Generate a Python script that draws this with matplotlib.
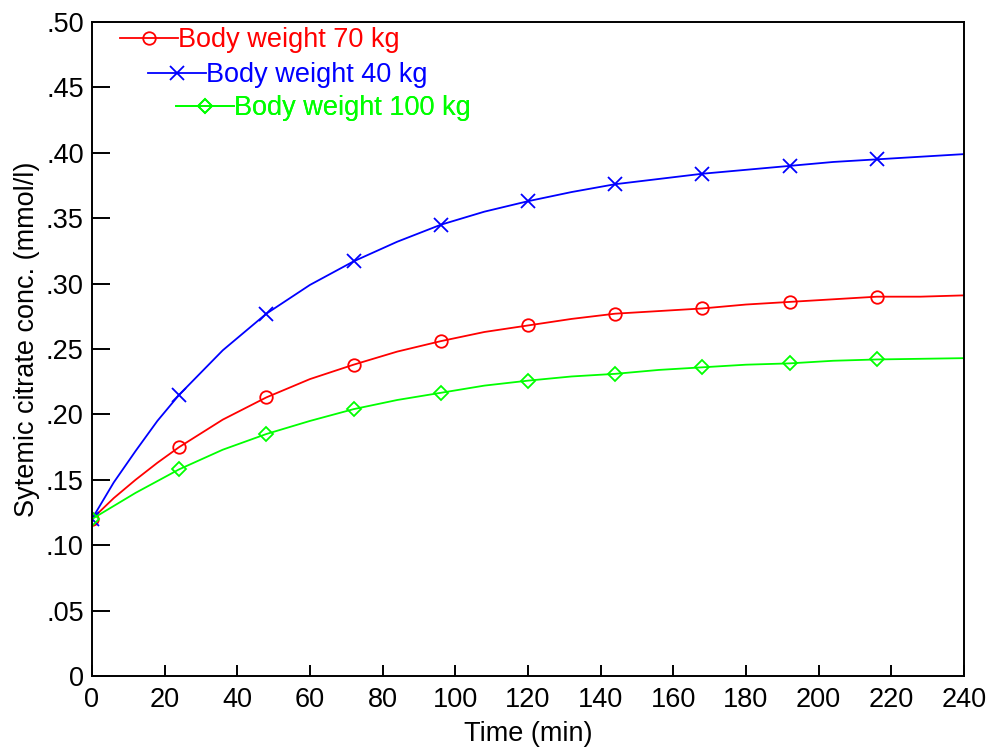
import matplotlib.pyplot as plt
from matplotlib.ticker import FixedLocator, FixedFormatter

plt.rcParams['font.family'] = ['Liberation Sans', 'DejaVu Sans']

# time points (min)
time = [0, 6, 12, 18, 24, 36, 48, 60, 72, 84, 96, 108, 120, 132, 144, 156,
        168, 180, 192, 204, 216, 228, 240]

bw70 = [0.120, 0.136, 0.150, 0.163, 0.175, 0.196, 0.213, 0.227, 0.238, 0.248,
        0.256, 0.263, 0.268, 0.273, 0.277, 0.279, 0.281, 0.284, 0.286, 0.288,
        0.290, 0.290, 0.291]
bw40 = [0.120, 0.148, 0.172, 0.195, 0.215, 0.249, 0.277, 0.299, 0.317, 0.332,
        0.345, 0.355, 0.363, 0.370, 0.376, 0.380, 0.384, 0.387, 0.390, 0.393,
        0.395, 0.397, 0.399]
bw100 = [0.120, 0.130, 0.140, 0.149, 0.158, 0.173, 0.185, 0.195, 0.204, 0.211,
         0.2165, 0.222, 0.2258, 0.229, 0.231, 0.234, 0.236, 0.238, 0.239,
         0.241, 0.242, 0.2425, 0.243]

xticks = [0, 20, 40, 60, 80, 100, 120, 140, 160, 180, 200, 220, 240]
yticks = [0, 0.05, 0.10, 0.15, 0.20, 0.25, 0.30, 0.35, 0.40, 0.45, 0.50]
ytick_labels = ['0', '.05', '.10', '.15', '.20', '.25', '.30', '.35', '.40',
                '.45', '.50']

series = [
    ('Body weight 70 kg', bw70, '#ff0000', 'o', 9),
    ('Body weight 40 kg', bw40, '#0000ff', 'x', 10),
    ('Body weight 100 kg', bw100, '#00ff00', 'D', 7),
]

# markers every 24 min
mark_idx = [i for i, t in enumerate(time) if t % 24 == 0 and t < 240]

fig = plt.figure(figsize=(9.9, 7.49), dpi=100)
ax = fig.add_axes([0.0929, 0.0975, 0.8808, 0.8731])

handles = []
for label, vals, color, mk, ms in series:
    h, = ax.plot(time, vals, color=color, linewidth=1.3, marker=mk,
                 markersize=ms, markevery=mark_idx,
                 markerfacecolor='none', markeredgecolor=color,
                 markeredgewidth=1.3, label=label)
    handles.append(h)

ax.set_xlim(0, 240)
ax.set_ylim(0, 0.5)
ax.xaxis.set_major_locator(FixedLocator(xticks))
ax.yaxis.set_major_locator(FixedLocator(yticks))
ax.yaxis.set_major_formatter(FixedFormatter(ytick_labels))
ax.tick_params(axis='both', direction='in', labelsize=19.5, width=1.4,
               top=False, right=False)
ax.tick_params(axis='y', length=13, pad=6)
ax.tick_params(axis='x', length=8, pad=8)
for sp in ax.spines.values():
    sp.set_linewidth(1.4)

ax.set_xlabel('Time (min)', fontsize=19.5, labelpad=6)
ax.set_ylabel('Sytemic citrate conc. (mmol/l)', fontsize=19.5, labelpad=4,
              y=0.515)

# staggered legend entries, one legend per series
anchors = [(0.032, 0.9725), (0.0642, 0.919), (0.0963, 0.8685)]
for h, (ax_x, ax_y) in zip(handles, anchors):
    leg = ax.legend([h], [h.get_label()], loc='center left',
                    bbox_to_anchor=(ax_x, ax_y), frameon=False,
                    fontsize=19.5, handlelength=2.15, handletextpad=0.0,
                    borderpad=0, borderaxespad=0, markerscale=1.0,
                    labelcolor=h.get_color())
    ax.add_artist(leg)

fig.savefig('out.png', dpi=100)
